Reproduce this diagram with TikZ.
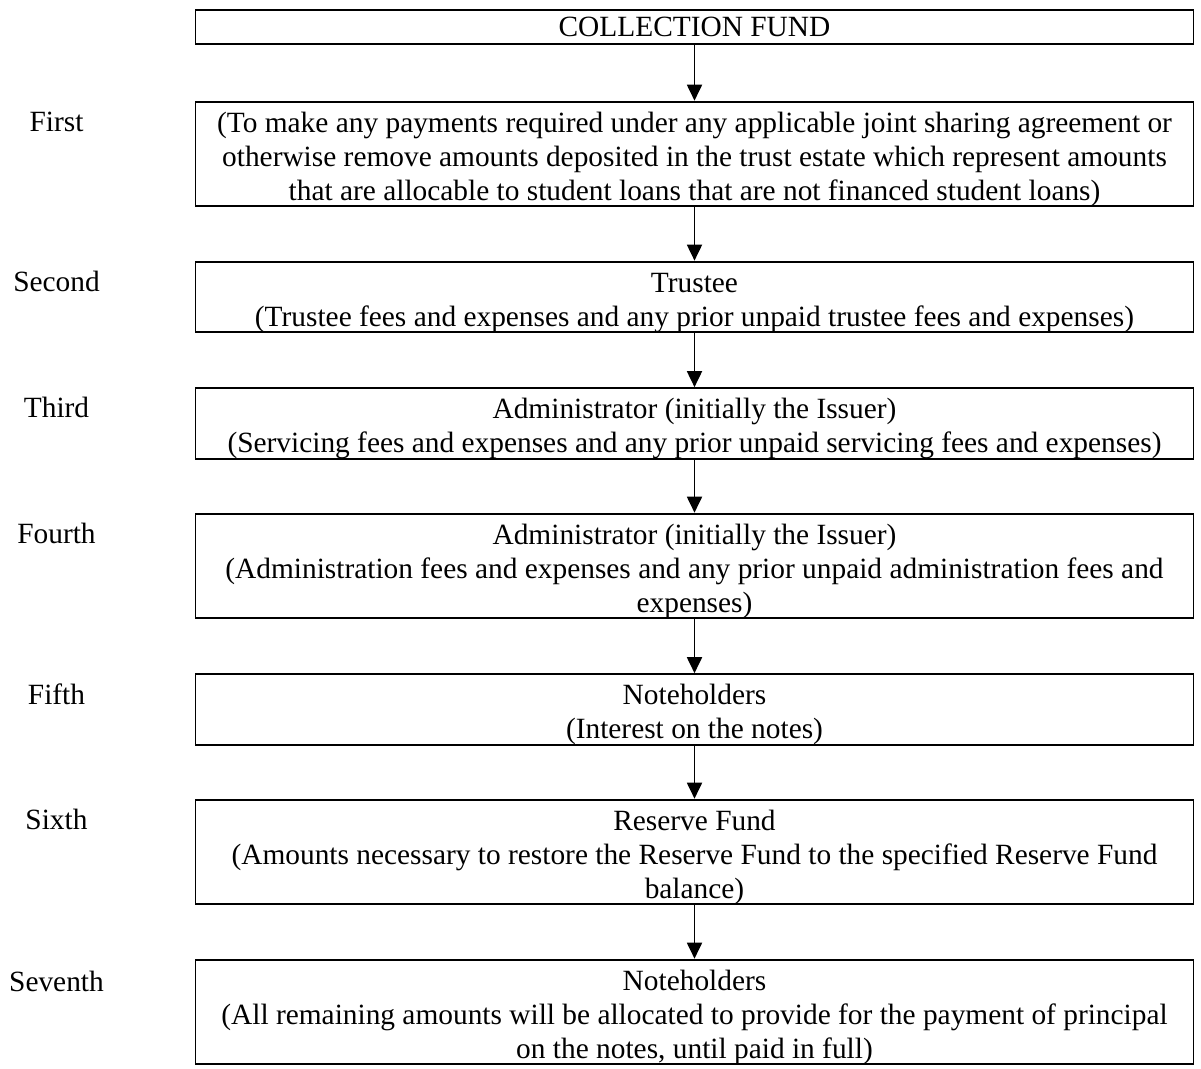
\documentclass[tikz,border=0pt]{standalone}
\usepackage{fontspec}
\setmainfont{Liberation Serif}
\usetikzlibrary{arrows.meta}
\newcommand{\tstrut}{\rule{0pt}{12.2pt}}
\begin{document}
\begin{tikzpicture}[x=0.4pt,y=-0.4pt,
  box/.style={draw,line width=0.75pt,minimum width=399.2pt,inner sep=0pt,align=center,font=\fontsize{11.75}{13.6}\selectfont},
  one/.style={box,minimum height=13.6pt},
  two/.style={box,minimum height=27.2pt},
  three/.style={box,minimum height=40.8pt},
  lbl/.style={font=\fontsize{11.75}{13.6}\selectfont,inner sep=0pt},
  flow/.style={line width=0.75pt,-{Triangle[width=6pt,length=6.4pt]}}]
\useasboundingbox (0,0) rectangle (1201,1068);
\node[one] (cf) at (694.5,27) {COLLECTION FUND};
\node[three] (b1) at (694.5,154) {\tstrut(To make any payments required under any applicable joint sharing agreement or\\otherwise remove amounts deposited in the trust estate which represent amounts\\that are allocable to student loans that are not financed student loans)};
\node[two] (b2) at (694.5,297) {\tstrut Trustee\\(Trustee fees and expenses and any prior unpaid trustee fees and expenses)};
\node[two] (b3) at (694.5,423.5) {\tstrut Administrator (initially the Issuer)\\(Servicing fees and expenses and any prior unpaid servicing fees and expenses)};
\node[three] (b4) at (694.5,566) {\tstrut Administrator (initially the Issuer)\\(Administration fees and expenses and any prior unpaid administration fees and\\expenses)};
\node[two] (b5) at (694.5,709.5) {\tstrut Noteholders\\(Interest on the notes)};
\node[three] (b6) at (694.5,852) {\tstrut Reserve Fund\\(Amounts necessary to restore the Reserve Fund to the specified Reserve Fund\\balance)};
\node[three] (b7) at (694.5,1012) {\tstrut Noteholders\\(All remaining amounts will be allocated to provide for the payment of principal\\on the notes, until paid in full)};
\node[lbl] (l1) at (56.5,122) {First};
\node[lbl] (l2) at (56.5,281) {Second};
\node[lbl] (l3) at (56.5,407) {Third};
\node[lbl] (l4) at (56.5,533) {Fourth};
\node[lbl] (l5) at (56.5,694) {Fifth};
\node[lbl] (l6) at (56.5,819) {Sixth};
\node[lbl] (l7) at (56.5,981) {Seventh};
\draw[flow] (cf) -- (b1);
\draw[flow] (b1) -- (b2);
\draw[flow] (b2) -- (b3);
\draw[flow] (b3) -- (b4);
\draw[flow] (b4) -- (b5);
\draw[flow] (b5) -- (b6);
\draw[flow] (b6) -- (b7);
\end{tikzpicture}
\end{document}
